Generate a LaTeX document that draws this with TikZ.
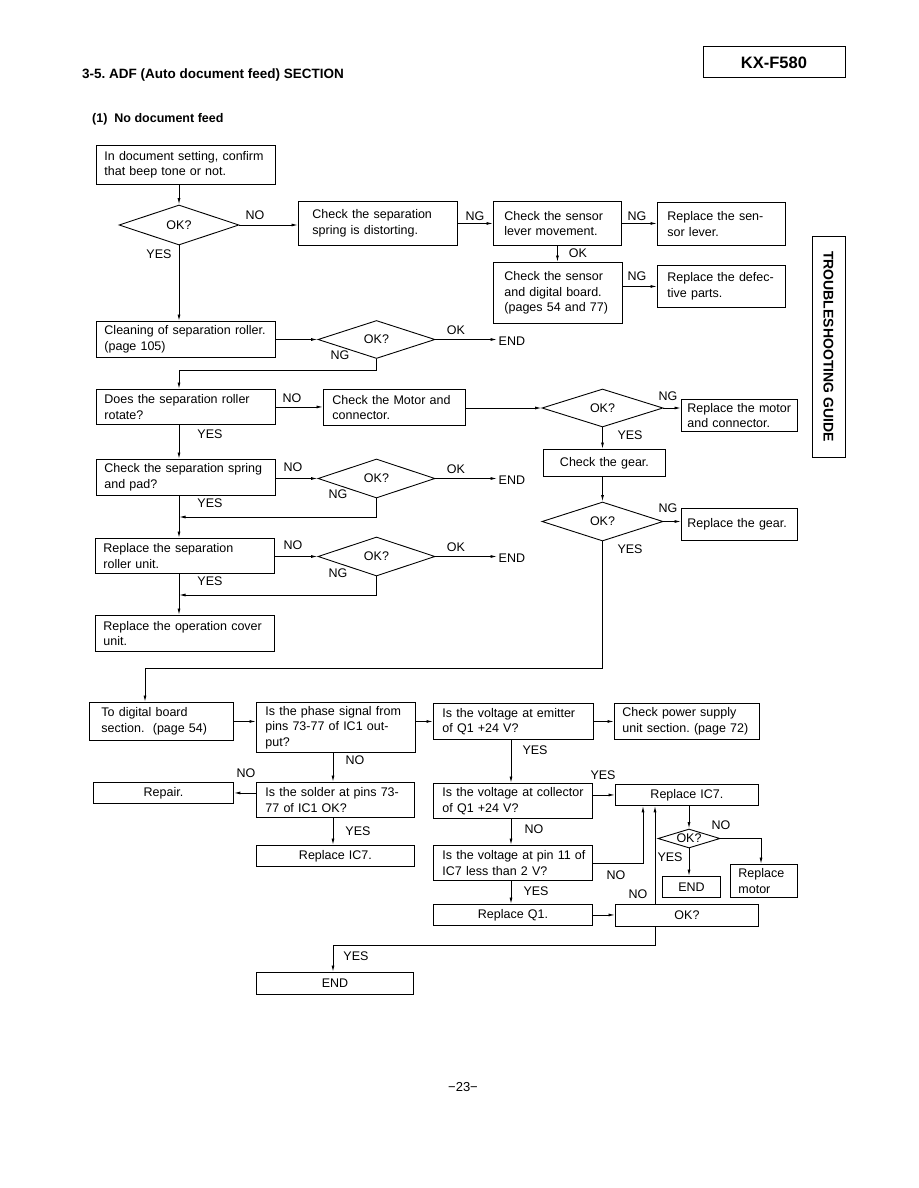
\documentclass[tikz,border=0pt]{standalone}
\usepackage{fontspec}
\setmainfont{Liberation Sans}
\usetikzlibrary{shapes.geometric,arrows.meta,calc}
\frenchspacing
\newcommand\fsz{\fontsize{12.5}{15.5}\selectfont}
\newcommand\bx[8][left]{%
  \node[box,anchor=north west,minimum width=#5pt,minimum height=#6pt,
        inner xsep=0pt,text width=#5pt,align=#1,
        execute at begin node={\advance\leftskip by #7pt\relax\hyphenpenalty=10000\relax}]
        (#2) at (#3,#4) {#8};}
\begin{document}
\begin{tikzpicture}[x=1pt,y=-1pt,
  box/.style={draw,rectangle,line width=0.9pt,inner ysep=1pt,font=\fsz},
  dia/.style={draw,diamond,aspect=3,inner sep=0pt,line width=0.9pt,font=\fsz},
  lab/.style={inner sep=0pt,font=\fsz},
  endn/.style={inner xsep=1.5pt,inner ysep=0pt,font=\fsz,anchor=west},
  arr/.style={line width=0.9pt,-{Latex[length=6.5pt,width=3pt]}}]
\useasboundingbox (0,0) rectangle (918,1188);

% header
\node[draw,line width=1pt,minimum width=142pt,minimum height=31pt,
      font=\bfseries\fontsize{16.5}{18}\selectfont] (hdr) at (774,62.5) {KX-F580};
\node[anchor=west,inner sep=0pt,font=\bfseries\fontsize{13.5}{16}\selectfont]
      (title) at (82,75) {3-5. ADF (Auto document feed) SECTION};
\node[anchor=west,inner sep=0pt,font=\bfseries\fontsize{12.5}{15}\selectfont]
      (sub) at (92,119) {(1)\ \ No document feed};
\node[draw,line width=1pt,minimum width=33pt,minimum height=221pt] (side) at (828.5,346.5) {};
\node[rotate=-90,inner sep=0pt,font=\bfseries\fontsize{14}{16}\selectfont]
      (sidetxt) at (side.center) {TROUBLESHOOTING GUIDE};
\node[inner sep=0pt,font=\fontsize{13}{15}\selectfont] (pg) at (463,1087) {−23−};

\coordinate (col) at (179,0);
\coordinate (kx) at (145,0);
\coordinate (px) at (333,0);
\coordinate (qx) at (511,0);
\coordinate (wx) at (643,0);
\coordinate (yx) at (655,0);
\coordinate (rx) at (761,0);

% upper flow boxes
\bx{A}{96}{145}{179}{39}{8}{In document setting, confirm\\that beep tone or not.}
\bx{B}{298}{201}{159}{44}{14}{Check the separation\\spring is distorting.}
\bx{C}{493}{201}{128}{44}{11}{Check the sensor\\lever movement.}
\bx{C2}{657}{202}{128}{43}{10}{Replace the sen-\\sor lever.}
\bx{C3}{493}{262}{129}{61}{11}{Check the sensor\\and digital board.\\(pages 54 and 77)}
\bx{C4}{657}{265}{128}{42}{10}{Replace the defec-\\tive parts.}
\bx{E}{96}{321}{179}{36}{8}{Cleaning of separation roller.\\(page 105)}
\bx{F}{96}{389}{179}{35}{8}{Does the separation roller\\rotate?}
\bx{G}{323}{389}{142}{36}{9}{Check the Motor and\\connector.}
\bx{H}{681}{399}{116}{32}{6}{Replace the motor\\and connector.}
\bx[center]{I}{543}{449}{122}{27}{0}{Check the gear.}
\bx{J}{681}{508}{116}{32}{6}{Replace the gear.}
\bx{L}{96}{459}{179}{36}{8}{Check the separation spring\\and pad?}
\bx{M}{95}{538}{179}{35}{8}{Replace the separation\\roller unit.}
\bx{N}{95}{615}{179}{36}{8}{Replace the operation cover\\unit.}

\node[dia,minimum width=120pt,minimum height=40pt] (D1) at (179,225) {OK?};
\node[dia,minimum width=117pt,minimum height=38pt] (D2) at (376.5,339.5) {OK?};
\node[dia,minimum width=121pt,minimum height=38pt] (D3) at (602.5,408) {OK?};
\node[dia,minimum width=121pt,minimum height=39pt] (D4) at (602.5,521.5) {OK?};
\node[dia,minimum width=117pt,minimum height=39pt] (D5) at (376.5,478.5) {OK?};
\node[dia,minimum width=117pt,minimum height=39pt] (D6) at (376.5,556.5) {OK?};

\node[endn] (end1) at (497,341) {END};
\node[endn] (end2) at (497,480) {END};
\node[endn] (end3) at (497,558) {END};

% lower flow boxes
\bx{K}{89}{702}{144}{38}{12}{To digital board\\section.\ \ (page 54)}
\bx{P}{256}{702}{159}{50}{9}{Is the phase signal from\\pins 73-77 of IC1 out-\\put?}
\bx{Q}{433}{703}{160}{36}{9}{Is the voltage at emitter\\of Q1 +24 V?}
\bx{R}{614}{703}{145}{36}{8}{Check power supply\\unit section. (page 72)}
\bx[center]{Rep}{93}{782}{140}{21}{0}{Repair.}
\bx{S}{256}{782}{158}{35}{9}{Is the solder at pins 73-\\77 of IC1 OK?}
\bx[center]{T}{256}{845}{158}{21}{0}{Replace IC7.}
\bx{U}{433}{783}{159}{35}{9}{Is the voltage at collector\\of Q1 +24 V?}
\bx[center]{V}{615}{784}{143}{21}{0}{Replace IC7.}
\bx{W}{433}{845}{159}{35}{9}{Is the voltage at pin 11 of\\IC7 less than 2 V?}
\bx[center]{X}{433}{904}{159}{21}{0}{Replace Q1.}
\bx[center]{Y}{615}{904}{143}{22}{0}{OK?}
\bx[center]{Z}{256}{972}{157}{22}{0}{END}
\bx[center]{E2}{662}{876}{58}{21}{0}{END}
\bx{RM}{730}{864}{67}{33}{8}{Replace\\motor}
\node[dia,minimum width=62pt,minimum height=19pt] (D7) at (689,838.5) {OK?};

% labels
\node[lab] (l1) at (255,215) {NO};
\node[lab] (l2) at (159,254) {YES};
\node[lab] (l3) at (475,216) {NG};
\node[lab] (l4) at (637,216) {NG};
\node[lab] (l5) at (578,253) {OK};
\node[lab] (l6) at (637,276) {NG};
\node[lab] (l7) at (456,330) {OK};
\node[lab] (l8) at (340,355) {NG};
\node[lab] (l9) at (292,398) {NO};
\node[lab] (l10) at (210,434) {YES};
\node[lab] (l11) at (668,396) {NG};
\node[lab] (l12) at (630,435) {YES};
\node[lab] (l13) at (293,467) {NO};
\node[lab] (l14) at (456,469) {OK};
\node[lab] (l15) at (338,494) {NG};
\node[lab] (l16) at (210,503) {YES};
\node[lab] (l17) at (293,545) {NO};
\node[lab] (l18) at (456,547) {OK};
\node[lab] (l19) at (338,573) {NG};
\node[lab] (l20) at (210,581) {YES};
\node[lab] (l21) at (668,508) {NG};
\node[lab] (l22) at (630,549) {YES};
\node[lab] (l23) at (355,760) {NO};
\node[lab] (l24) at (246,773) {NO};
\node[lab] (l25) at (358,831) {YES};
\node[lab] (l26) at (535,750) {YES};
\node[lab] (l27) at (603,775) {YES};
\node[lab] (l28) at (534,829) {NO};
\node[lab] (l29) at (616,875) {NO};
\node[lab] (l30) at (536,891) {YES};
\node[lab] (l31) at (638,894) {NO};
\node[lab] (l32) at (356,956) {YES};
\node[lab] (l33) at (721,825) {NO};
\node[lab] (l34) at (670,857) {YES};

% upper connectors
\draw[arr] (A.south -| col) -- (D1.north);
\draw[arr] (D1.east) -- (D1.east -| B.west);
\draw[arr] (B.east) -- (B.east -| C.west);
\draw[arr] (C.east) -- (C.east -| C2.west);
\draw[arr] (C.south) -- (C.south |- C3.north);
\draw[arr] (C4.west -| C3.east) -- (C4.west);
\draw[arr] (D1.south) -- (D1.south |- E.north);
\draw[arr] (E.east |- D2.west) -- (D2.west);
\draw[arr] (D2.east) -- (D2.east -| end1.west);
\draw[arr] (D2.south) -- ++(0,11.5) -| (F.north -| col);
\draw[arr] (F.east) -- (F.east -| G.west);
\draw[arr] (D3.west -| G.east) -- (D3.west);
\draw[arr] (D3.east) -- (D3.east -| H.west);
\draw[arr] (D3.south) -- (D3.south |- I.north);
\draw[arr] (I.south -| D4.north) -- (D4.north);
\draw[arr] (D4.east) -- (D4.east -| J.west);
\draw[arr] (D4.south) -- ++(0,127) -| (K.north -| kx);
\draw[arr] (F.south -| col) -- (L.north -| col);
\draw[arr] (L.east |- D5.west) -- (D5.west);
\draw[arr] (D5.east) -- (D5.east -| end2.west);
\coordinate (m1) at (179,517);
\draw[arr] (D5.south) |- (m1);
\draw[arr] (L.south -| col) -- (M.north -| col);
\draw[arr] (M.east |- D6.west) -- (D6.west);
\draw[arr] (D6.east) -- (D6.east -| end3.west);
\coordinate (m2) at (179,595);
\draw[arr] (D6.south) |- (m2);
\draw[arr] (M.south -| col) -- (N.north -| col);

% lower connectors
\draw[arr] (K.east) -- (K.east -| P.west);
\draw[arr] (Q.west -| P.east) -- (Q.west);
\draw[arr] (Q.east) -- (Q.east -| R.west);
\draw[arr] (P.south -| px) -- (S.north -| px);
\draw[arr] (Rep.east -| S.west) -- (Rep.east);
\draw[arr] (S.south -| px) -- (T.north -| px);
\draw[arr] (Q.south -| qx) -- (U.north -| qx);
\draw[arr] (V.west -| U.east) -- (V.west);
\draw[arr] (U.south -| qx) -- (W.north -| qx);
\draw[arr] (W.south -| qx) -- (X.north -| qx);
\draw[arr] (W.east) -| (V.south -| wx);
\draw[arr] (X.east) -- (X.east -| Y.west);
\draw[arr] (Y.north -| yx) -- (V.south -| yx);
\draw[arr] (Y.south -| yx) -- ++(0,19) -| (Z.north -| px);
\draw[arr] (V.south -| D7.north) -- (D7.north);
\draw[arr] (D7.east) -| (RM.north -| rx);
\draw[arr] (D7.south) -- (D7.south |- E2.north);
\end{tikzpicture}
\end{document}
